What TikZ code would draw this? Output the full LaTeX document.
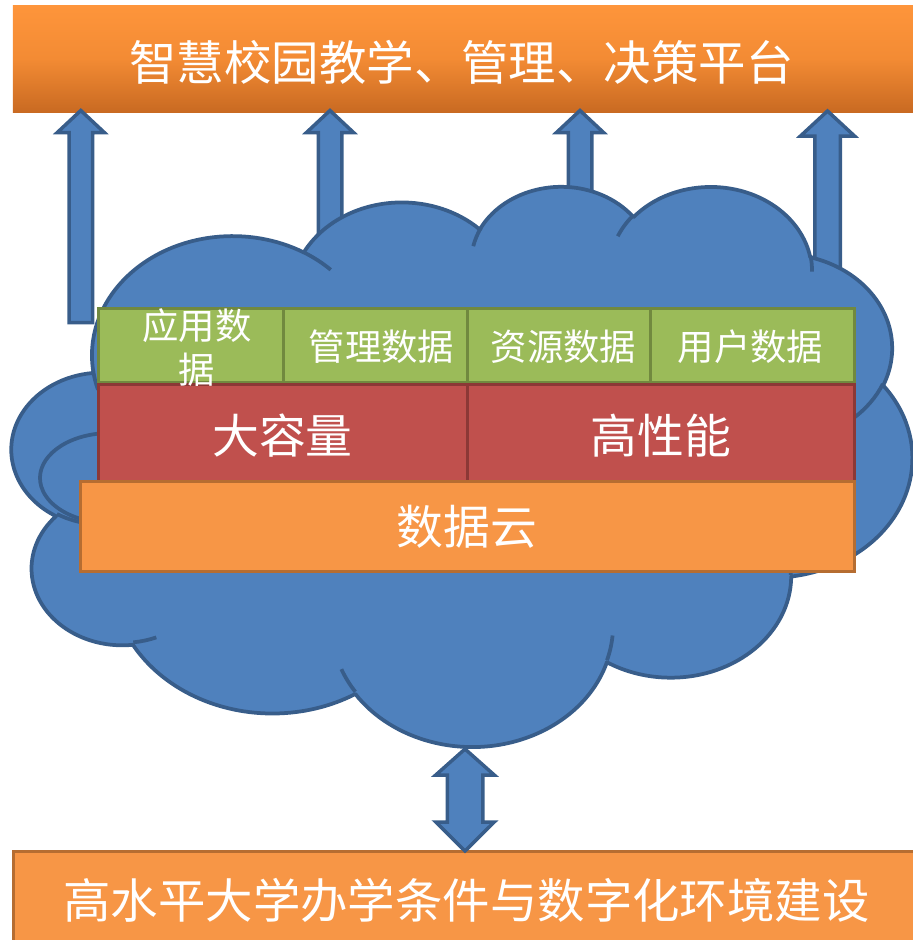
\documentclass[tikz,border=0pt]{standalone}
\usepackage{fontspec}
\setmainfont{Noto Sans CJK SC}
\definecolor{cloudfill}{HTML}{4F81BD}
\definecolor{cloudline}{HTML}{385D8A}
\definecolor{grfill}{HTML}{9BBB59}
\definecolor{grline}{HTML}{71893F}
\definecolor{rdfill}{HTML}{C0504D}
\definecolor{rdline}{HTML}{8C3836}
\definecolor{orfill}{HTML}{F79646}
\definecolor{orline}{HTML}{B66D31}
\definecolor{bartop}{HTML}{FE953B}
\definecolor{barmid}{HTML}{F38B34}
\definecolor{barbot}{HTML}{C96A22}
% elliptical arc helper (OOXML visual angles -> parametric angles)
\newcommand\mkarc[5]{%
  \pgfmathsetmacro\tmpa{atan2(#2*sin(#4),#3*cos(#4))}%
  \pgfmathsetmacro\tmpr{atan2(#2*sin(#4+#5),#3*cos(#4+#5))}%
  \pgfmathsetmacro\tmpb{\tmpr<\tmpa ? \tmpr+360 : \tmpr}%
  \expandafter\edef\csname arc#1\endcsname{arc[x radius=#2, y radius=#3, start angle=\tmpa, end angle=\tmpb]}%
}
\mkarc{A}{67.53}{91.90}{-190.48748}{123.78053}
\mkarc{B}{53.33}{72.67}{-144.10238}{89.94523}
\mkarc{C}{43.65}{59.45}{-145.80792}{99.72302}
\mkarc{D}{48.57}{65.95}{-130.98607}{117.24173}
\mkarc{E}{53.33}{72.73}{-78.70888}{109.02692}
\mkarc{F}{67.75}{92.20}{-46.26725}{130.26900}
\mkarc{G}{57.85}{78.67}{0.62502}{114.03333}
\mkarc{H}{67.52}{92.15}{22.45160}{115.17255}
\mkarc{I}{77.20}{105.43}{66.24263}{75.71102}
\mkarc{J}{43.60}{59.18}{-274.94208}{146.73557}
\mkarc{K}{43.45}{59.45}{-246.82850}{152.51885}
\mkarc{a}{43.45}{59.45}{86.74200}{26.42950}
\mkarc{b}{43.60}{59.18}{73.61047}{11.44747}
\mkarc{c}{67.52}{92.15}{137.62415}{14.08110}
\mkarc{d}{67.52}{92.15}{6.45327}{15.99835}
\mkarc{e}{57.85}{78.67}{-70.29235}{70.91737}
\mkarc{f}{53.33}{72.73}{30.31803}{27.75150}
\mkarc{g}{48.57}{65.95}{-13.74433}{14.86345}
\mkarc{h}{48.57}{65.95}{-149.18145}{18.19700}
\mkarc{i}{43.65}{59.45}{-163.49427}{17.68748}
\mkarc{j}{67.53}{91.90}{-66.70695}{12.31935}
\mkarc{k}{67.53}{91.90}{157.65435}{11.85817}
\tikzset{
  cloudedge/.style={draw=cloudline, line width=3.75bp, line join=round},
  blockarrow/.style={draw=cloudline, fill=cloudfill, line width=3.5bp, line join=miter},
  cellbox/.style={rectangle, inner sep=0pt, line width=3bp},
  cellg/.style={cellbox, draw=grline, fill=grfill},
  cellr/.style={cellbox, draw=rdline, fill=rdfill},
  cello/.style={cellbox, draw=orline, fill=orfill},
  lbl/.style={text=white, inner sep=0pt},
  lblbig/.style={lbl, font=\fontsize{47.6}{57}\selectfont, text height=41.9bp, text depth=5.7bp},
  lblmid/.style={lbl, font=\fontsize{47}{56}\selectfont, text height=41.4bp, text depth=5.6bp},
  lblsmall/.style={lbl, font=\fontsize{36.5}{45}\selectfont, text height=32.1bp, text depth=4.4bp},
}
% up block arrow: #1 centre x, #2 bottom y, #3 half shaft, #4 half head, #5 head base y, #6 tip y
\newcommand\blockup[6]{%
  \draw[blockarrow] (#1-#3,#2) -- (#1-#3,#5) -- (#1-#4,#5) -- (#1,#6)
     -- (#1+#4,#5) -- (#1+#3,#5) -- (#1+#3,#2) -- cycle;}
\begin{document}
\begin{tikzpicture}[x=1bp,y=1bp,yscale=-1]
\useasboundingbox (0,0) rectangle (913,940);
% top bar
\node[rectangle, inner sep=0pt, minimum width=900bp, minimum height=107bp,
      top color=bartop, bottom color=barbot, middle color=barmid] (topbar) at (463,58.5) {};
\node[lblbig] (toptext) at (461.5,62) {智慧校园教学、管理、决策平台};
% bottom bar
\node[cello, line width=3.5bp, minimum width=912bp, minimum height=97bp] (botbar) at (469.5,900) {};
\node[lblbig] (bottext) at (466.5,900) {高水平大学办学条件与数字化环境建设};
% up arrows
\blockup{80.8}{322.5}{11.75}{23.5}{132.5}{110.5}
\blockup{330}{330}{11.75}{23.5}{132.5}{110.5}
\blockup{580}{330}{11.75}{23.5}{132.5}{110.5}
\blockup{827.5}{330}{12.75}{27}{136}{111}
% cloud
\begin{scope}[shift={(12,185)}, x=2.083333bp, y=1.296296bp]
  \draw[cloudedge, fill=cloudfill] (39,143.7) \arcA \arcB \arcC \arcD \arcE \arcF \arcG \arcH \arcI \arcJ \arcK -- cycle;
  \draw[cloudedge] (46.93,261.77) \arca;
  \draw[cloudedge] (69.28,348.99) \arcb;
  \draw[cloudedge] (164.78,390.90) \arcc;
  \draw[cloudedge] (288.27,347.51) \arcd;
  \draw[cloudedge] (341.29,229.54) \arce;
  \draw[cloudedge] (417.98,153.54) \arcf;
  \draw[cloudedge] (383.24,54.26) \arcg;
  \draw[cloudedge] (290.78,39.52) \arch;
  \draw[cloudedge] (221.41,47.20) \arci;
  \draw[cloudedge] (140.00,51.92) \arcj;
  \draw[cloudedge] (41.27,157.89) \arck;
\end{scope}
\draw[cloudedge] (97,433.8) arc[start angle=259.3, end angle=115.4, x radius=70, y radius=45];
% data layers
\node[cellg, minimum width=184.5bp, minimum height=74bp] (g1) at (190.75,345.5) {};
\node[cellg, minimum width=184bp, minimum height=74bp] (g2) at (375,345.5) {};
\node[cellg, minimum width=183bp, minimum height=74bp] (g3) at (558.5,345.5) {};
\node[cellg, minimum width=204.5bp, minimum height=74bp] (g4) at (752.25,345.5) {};
\node[cellr, minimum width=368.5bp, minimum height=97bp] (r1) at (282.75,432.5) {};
\node[cellr, minimum width=387.5bp, minimum height=97bp] (r2) at (660.75,432.5) {};
\node[cello, minimum width=773.5bp, minimum height=90bp] (o1) at (467.75,526.5) {};
\node[text=white, inner sep=0pt, align=center, font=\fontsize{36.5}{45}\selectfont] (g1t) at (197,347.5) {应用数\\据};
\node[lblsmall] (g2t) at (381.5,347) {管理数据};
\node[lblsmall] (g3t) at (563.5,347) {资源数据};
\node[lblsmall] (g4t) at (750.5,347) {用户数据};
\node[lblmid] (r1t) at (282.5,436) {大容量};
\node[lblmid] (r2t) at (661,436) {高性能};
\node[lblmid] (o1t) at (467,527) {数据云};
% double arrow between cloud and bottom bar
\coordinate (dtop) at (465,749);
\coordinate (dbot) at (465,851);
\draw[blockarrow] (dtop) -- ++(29.25,26) -- ++(-11.5,0) -- ++(0,47) -- ++(11.5,0) -- (dbot)
  -- ++(-29.25,-29) -- ++(11.5,0) -- ++(0,-47) -- ++(-11.5,0) -- cycle;
\end{tikzpicture}
\end{document}
